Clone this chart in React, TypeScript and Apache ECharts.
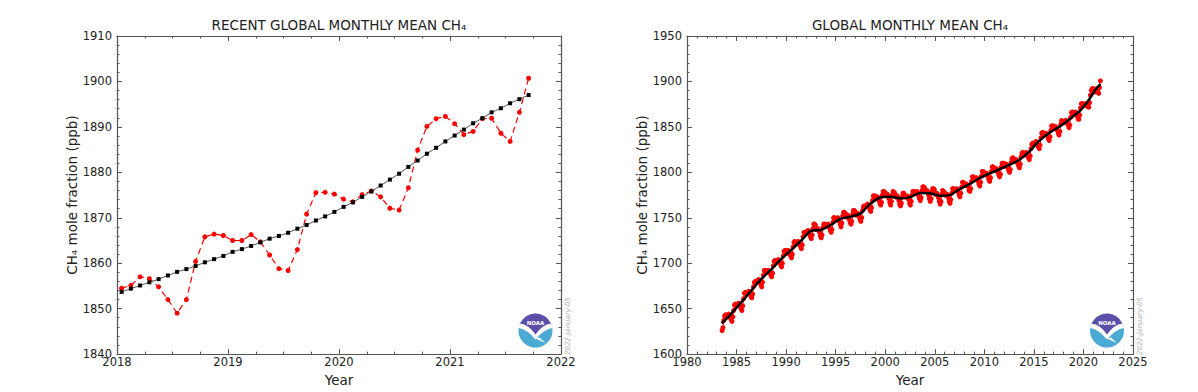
import React, { useEffect, useRef } from "react";
import * as echarts from "echarts";

// ---------------- DATA ----------------
// Recent monthly means, Jan 2018 .. Sep 2021 (ppb)
const recentStartYear = 2018;
const recentMonthly = [
  1854.5, 1855.1, 1857.0, 1856.6, 1854.8, 1852.0, 1849.0, 1852.0, 1860.4, 1865.8, 1866.4, 1866.1,
  1865.0, 1865.0, 1866.3, 1864.7, 1861.8, 1858.8, 1858.4, 1863.0, 1870.8, 1875.5, 1875.6, 1875.2,
  1874.1, 1873.5, 1875.1, 1875.9, 1874.6, 1872.1, 1871.7, 1876.6, 1884.9, 1890.1, 1891.8, 1892.3,
  1890.7, 1888.3, 1889.0, 1891.8, 1891.9, 1888.6, 1886.8, 1893.2, 1900.7,
];
// Recent deseasonalized trend, Jan 2018 .. Sep 2021 (ppb)
const recentTrend = [
  1853.7, 1854.4, 1855.1, 1855.8, 1856.5, 1857.3, 1858.1, 1858.7, 1859.4, 1860.2, 1860.9, 1861.6,
  1862.5, 1863.1, 1863.8, 1864.6, 1865.4, 1866.0, 1866.7, 1867.6, 1868.4, 1869.4, 1870.3, 1871.3,
  1872.4, 1873.4, 1874.6, 1875.8, 1877.1, 1878.4, 1879.7, 1881.2, 1882.6, 1884.1, 1885.4, 1886.8,
  1888.1, 1889.4, 1890.8, 1891.9, 1893.2, 1894.1, 1895.2, 1896.1, 1897.0,
];

// Long record monthly means, by year, Jul 1983 .. Dec 2017 (ppb)
const longFirstYear = 1983;
const longFirstMonth = 7;
const longMonthlyByYear = [
  [1626, 1629, 1637, 1642, 1643, 1643],
  [1641, 1642, 1644, 1643, 1640, 1638, 1636, 1641, 1648, 1654, 1655, 1654],
  [1653, 1654, 1656, 1655, 1653, 1650, 1648, 1653, 1661, 1667, 1668, 1667],
  [1666, 1667, 1669, 1668, 1666, 1663, 1662, 1666, 1674, 1679, 1680, 1680],
  [1679, 1680, 1682, 1681, 1679, 1676, 1674, 1679, 1687, 1692, 1692, 1692],
  [1690, 1691, 1692, 1691, 1689, 1687, 1685, 1689, 1697, 1702, 1703, 1702],
  [1701, 1702, 1704, 1703, 1701, 1698, 1696, 1700, 1708, 1713, 1714, 1714],
  [1711, 1712, 1714, 1713, 1710, 1708, 1706, 1710, 1718, 1723, 1724, 1723],
  [1721, 1722, 1724, 1723, 1721, 1718, 1716, 1720, 1729, 1734, 1734, 1734],
  [1734, 1735, 1736, 1735, 1732, 1729, 1727, 1731, 1738, 1743, 1743, 1742],
  [1737, 1737, 1738, 1736, 1734, 1730, 1728, 1731, 1739, 1743, 1743, 1742],
  [1741, 1741, 1743, 1741, 1739, 1736, 1734, 1737, 1745, 1750, 1750, 1749],
  [1748, 1749, 1750, 1748, 1746, 1743, 1740, 1744, 1752, 1756, 1756, 1755],
  [1751, 1751, 1753, 1751, 1748, 1745, 1743, 1746, 1754, 1758, 1758, 1757],
  [1753, 1753, 1755, 1754, 1751, 1748, 1746, 1750, 1758, 1762, 1763, 1762],
  [1763, 1763, 1765, 1764, 1762, 1759, 1757, 1761, 1769, 1774, 1774, 1774],
  [1772, 1772, 1773, 1772, 1769, 1766, 1764, 1767, 1775, 1779, 1779, 1778],
  [1775, 1775, 1776, 1774, 1771, 1767, 1764, 1768, 1775, 1779, 1778, 1777],
  [1773, 1773, 1774, 1772, 1769, 1765, 1763, 1766, 1773, 1777, 1777, 1775],
  [1773, 1773, 1774, 1773, 1770, 1766, 1764, 1768, 1775, 1779, 1779, 1778],
  [1778, 1778, 1779, 1777, 1774, 1771, 1769, 1772, 1780, 1784, 1784, 1783],
  [1779, 1779, 1780, 1778, 1775, 1771, 1768, 1771, 1779, 1782, 1782, 1781],
  [1776, 1776, 1777, 1775, 1772, 1768, 1765, 1768, 1776, 1780, 1779, 1778],
  [1775, 1775, 1776, 1775, 1772, 1768, 1766, 1770, 1777, 1782, 1782, 1781],
  [1780, 1780, 1782, 1781, 1778, 1775, 1773, 1777, 1784, 1789, 1789, 1788],
  [1786, 1786, 1787, 1786, 1784, 1780, 1779, 1782, 1790, 1795, 1795, 1794],
  [1792, 1793, 1794, 1793, 1790, 1787, 1785, 1789, 1796, 1801, 1801, 1800],
  [1798, 1798, 1799, 1798, 1795, 1792, 1790, 1794, 1801, 1806, 1806, 1805],
  [1802, 1803, 1804, 1803, 1800, 1797, 1795, 1798, 1806, 1810, 1810, 1810],
  [1807, 1807, 1809, 1808, 1805, 1802, 1800, 1803, 1811, 1815, 1816, 1815],
  [1812, 1812, 1814, 1813, 1810, 1807, 1805, 1809, 1817, 1821, 1822, 1821],
  [1819, 1820, 1822, 1821, 1819, 1816, 1814, 1818, 1826, 1831, 1832, 1832],
  [1831, 1832, 1834, 1833, 1830, 1828, 1826, 1830, 1838, 1843, 1844, 1843],
  [1841, 1842, 1843, 1842, 1840, 1837, 1835, 1839, 1846, 1851, 1851, 1851],
  [1848, 1848, 1850, 1849, 1846, 1843, 1841, 1845, 1853, 1857, 1856, 1855],
];
// Long record trend, mid-year values 1983.5 .. 2017.5 (ppb)
const longTrendFirstYear = 1983.5;
const longTrendAnnual = [
  1633.7, 1644.9, 1657.3, 1670.1, 1682.7, 1693.3, 1704.5, 1714.4, 1724.8, 1735.5,
  1736.5, 1742.1, 1748.9, 1751.2, 1754.6, 1765.4, 1772.3, 1773.2, 1771.3, 1772.7,
  1777.3, 1777.1, 1774.2, 1774.9, 1781.4, 1787.0, 1793.5, 1798.6, 1803.1, 1808.1,
  1813.5, 1822.5, 1834.3, 1843.1, 1849.7,
];

const leftYTicks = { min: 1840, max: 1910, interval: 10 };
const leftXTicks = { min: 2018, max: 2022, interval: 1 };
const rightYTicks = { min: 1600, max: 1950, interval: 50 };
const rightXTicks = { min: 1980, max: 2025, interval: 5 };

const titleLeft = "RECENT GLOBAL MONTHLY MEAN CH\u2084";
const titleRight = "GLOBAL MONTHLY MEAN CH\u2084";
const yName = "CH\u2084 mole fraction (ppb)";
const xName = "Year";
const stamp = "2022-January-05";

// ---------------- SHAPES ----------------
echarts.graphic.registerShape(
  "noaaWhite",
  echarts.graphic.extendPath(
    "M -16.8 -2.6 A 17 17 0 0 1 16.8 -2.6 Q 8 -1 0 9 Q -8 -1 -16.8 -2.6 Z M 0 8 L 10 12.5 L 4 7 Z",
    {}
  )
);
echarts.graphic.registerShape(
  "noaaPurple",
  echarts.graphic.extendPath(
    "M -15.5 -7 A 17 17 0 0 1 15.5 -7 Q 7 -6 0 4 Q -7 -6 -15.5 -7 Z",
    {}
  )
);

const FONT = "DejaVu Sans";
const FRAME = "#555";

function monthX(year: number, month: number) {
  return year + (month - 0.5) / 12;
}

function logo(cx: number, cy: number) {
  return {
    type: "group",
    x: cx,
    y: cy,
    children: [
      { type: "circle", shape: { cx: 0, cy: 0, r: 17 }, style: { fill: "#4BAAD3" } },
      { type: "noaaWhite", style: { fill: "#ffffff" } },
      { type: "noaaPurple", style: { fill: "#5B4FA8" } },
      {
        type: "text",
        x: 0,
        y: -8,
        style: {
          text: "NOAA",
          fill: "#ffffff",
          font: `bold 5.5px ${FONT}`,
          textAlign: "center",
          textVerticalAlign: "middle",
        },
      },
    ],
  };
}

export default function App() {
  const ref = useRef<HTMLDivElement>(null);

  useEffect(() => {
    if (!ref.current) return;
    const chart = echarts.init(ref.current, undefined, { renderer: "svg" });

    const recentRed = recentMonthly.map((v, i) => [
      monthX(recentStartYear + Math.floor(i / 12), (i % 12) + 1),
      v,
    ]);
    const recentBlack = recentTrend.map((v, i) => [
      monthX(recentStartYear + Math.floor(i / 12), (i % 12) + 1),
      v,
    ]);

    const longRed: number[][] = [];
    longMonthlyByYear.forEach((row, yi) => {
      const startM = yi === 0 ? longFirstMonth : 1;
      row.forEach((v, j) => longRed.push([monthX(longFirstYear + yi, startM + j), v]));
    });
    recentRed.forEach((p) => longRed.push(p));

    const longBlack: number[][] = longTrendAnnual.map((v, i) => [longTrendFirstYear + i, v]);
    recentBlack.forEach((p) => longBlack.push(p));

    const tickLine = { color: FRAME, width: 1 };
    const mkX = (grid: number, t: any, minorSplit: number, bottom: boolean) => ({
      type: "value",
      gridIndex: grid,
      position: bottom ? "bottom" : "top",
      min: t.min,
      max: t.max,
      interval: t.interval,
      axisLine: { show: true, onZero: false, lineStyle: { color: FRAME, width: 1.2 } },
      axisTick: { show: true, inside: true, length: 5, lineStyle: tickLine },
      minorTick: { show: true, splitNumber: minorSplit, length: 2.5, lineStyle: tickLine },
      splitLine: { show: false },
      minorSplitLine: { show: false },
      axisLabel: bottom
        ? {
            show: true,
            color: "#222",
            fontFamily: FONT,
            fontSize: 11.5,
            margin: 2,
            showMinLabel: true,
            showMaxLabel: true,
            formatter: (v: number) => String(v),
          }
        : { show: false },
      name: bottom ? xName : "",
      nameLocation: "middle",
      nameGap: 13,
      nameTextStyle: { color: "#222", fontFamily: FONT, fontSize: 13.5 },
    });
    const mkY = (grid: number, t: any, minorSplit: number, left: boolean, gap: number) => ({
      type: "value",
      gridIndex: grid,
      position: left ? "left" : "right",
      min: t.min,
      max: t.max,
      interval: t.interval,
      axisLine: { show: true, onZero: false, lineStyle: { color: FRAME, width: 1.2 } },
      axisTick: { show: true, inside: true, length: 5, lineStyle: tickLine },
      minorTick: { show: true, splitNumber: minorSplit, length: 2.5, lineStyle: tickLine },
      splitLine: { show: false },
      minorSplitLine: { show: false },
      axisLabel: left
        ? {
            show: true,
            color: "#222",
            fontFamily: FONT,
            fontSize: 11.5,
            margin: 5,
            showMinLabel: true,
            showMaxLabel: true,
            formatter: (v: number) => String(v),
          }
        : { show: false },
      name: left ? yName : "",
      nameLocation: "middle",
      nameGap: gap,
      nameTextStyle: { color: "#222", fontFamily: FONT, fontSize: 13.5 },
    });

    const option: any = {
      animation: false,
      backgroundColor: "#ffffff",
      grid: [
        { left: 117, top: 36, width: 444, height: 323, containLabel: false },
        { left: 687, top: 36, width: 446, height: 323, containLabel: false },
      ],
      xAxis: [
        mkX(0, leftXTicks, 4, true),
        mkX(0, leftXTicks, 4, false),
        mkX(1, rightXTicks, 5, true),
        mkX(1, rightXTicks, 5, false),
      ],
      yAxis: [
        mkY(0, leftYTicks, 5, true, 37),
        mkY(0, leftYTicks, 5, false, 0),
        mkY(1, rightYTicks, 5, true, 38),
        mkY(1, rightYTicks, 5, false, 0),
      ],
      series: [
        {
          type: "line",
          xAxisIndex: 0,
          yAxisIndex: 0,
          data: recentRed,
          symbol: "circle",
          symbolSize: 5,
          itemStyle: { color: "#ff0000" },
          lineStyle: { color: "#ff0000", width: 1.2, type: [6, 4] },
          z: 2,
        },
        {
          type: "line",
          xAxisIndex: 0,
          yAxisIndex: 0,
          data: recentBlack,
          symbol: "rect",
          symbolSize: 4,
          itemStyle: { color: "#000000" },
          lineStyle: { color: "#555555", width: 1 },
          z: 3,
        },
        {
          type: "line",
          xAxisIndex: 2,
          yAxisIndex: 2,
          data: longRed,
          symbol: "circle",
          symbolSize: 5,
          itemStyle: { color: "#ff0000" },
          lineStyle: { color: "#ff0000", width: 1 },
          z: 2,
        },
        {
          type: "line",
          xAxisIndex: 2,
          yAxisIndex: 2,
          data: longBlack,
          showSymbol: false,
          smooth: 0.2,
          lineStyle: { color: "#000000", width: 2.5 },
          z: 3,
        },
      ],
      graphic: [
        {
          type: "text",
          x: 339,
          y: 25,
          style: {
            text: titleLeft,
            fill: "#222",
            font: `13.5px ${FONT}`,
            textAlign: "center",
            textVerticalAlign: "middle",
          },
        },
        {
          type: "text",
          x: 910,
          y: 25,
          style: {
            text: titleRight,
            fill: "#222",
            font: `13.5px ${FONT}`,
            textAlign: "center",
            textVerticalAlign: "middle",
          },
        },
        logo(535.5, 330.5),
        logo(1107, 330.5),
        {
          type: "text",
          x: 568,
          y: 326,
          rotation: Math.PI / 2,
          style: {
            text: stamp,
            fill: "#b0b0b0",
            font: `italic 7px ${FONT}`,
            textAlign: "center",
            textVerticalAlign: "middle",
          },
        },
        {
          type: "text",
          x: 1140,
          y: 326,
          rotation: Math.PI / 2,
          style: {
            text: stamp,
            fill: "#b0b0b0",
            font: `italic 7px ${FONT}`,
            textAlign: "center",
            textVerticalAlign: "middle",
          },
        },
      ],
    };

    chart.setOption(option);
    return () => chart.dispose();
  }, []);

  return (
    <div
      ref={ref}
      style={{ position: "fixed", left: 0, top: 0, width: 1198, height: 392, background: "#fff" }}
    />
  );
}
